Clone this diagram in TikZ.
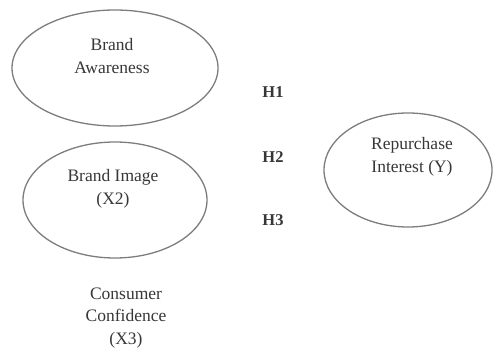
\documentclass[tikz,border=0pt]{standalone}
\usepackage{fontspec}
\setmainfont{Liberation Serif}
\usetikzlibrary{shapes.geometric}
\definecolor{edge}{RGB}{125,125,125}
\definecolor{txt}{RGB}{55,55,55}
\tikzset{
  var/.style={draw=edge, line width=1.3pt, ellipse, inner sep=0pt},
  lbl/.style={text=txt, font=\fontsize{17.5}{22.5}\selectfont, align=center},
  hyp/.style={text=txt, font=\fontsize{16.5}{18}\selectfont\bfseries}
}
\begin{document}
\begin{tikzpicture}[x=1pt,y=-1pt]
\useasboundingbox[fill=white] (0,0) rectangle (494,352);
\node[var, minimum width=206pt, minimum height=116pt] (ba) at (115,68) {};
\node[lbl] (batxt) at (112,56) {Brand\\Awareness};
\node[var, minimum width=184pt, minimum height=116pt] (bi) at (115,200) {};
\node[lbl] (bitxt) at (113,189) {Brand Image\\(X2)};
\node[var, minimum width=168pt, minimum height=114pt] (ri) at (408,170) {};
\node[lbl] (ritxt) at (412,157) {Repurchase\\Interest (Y)};
\node[lbl] (cc) at (126,318) {Consumer\\Confidence\\(X3)};
\node[hyp] (h1) at (273,92) {H1};
\node[hyp] (h2) at (273,157) {H2};
\node[hyp] (h3) at (273,220) {H3};
\end{tikzpicture}
\end{document}
